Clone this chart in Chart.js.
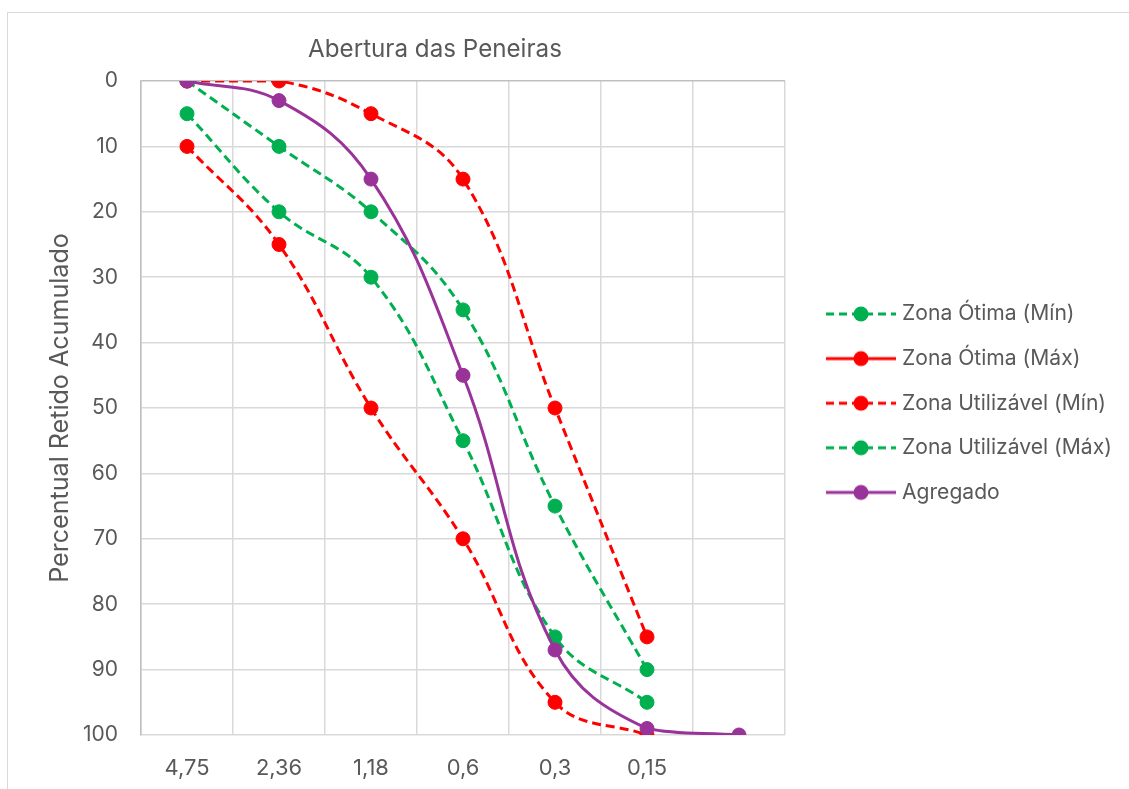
<!DOCTYPE html>
<html><head><meta charset="utf-8">
<script src="https://cdn.jsdelivr.net/npm/chart.js@4.4.1/dist/chart.umd.min.js"></script>
<style>
html,body{margin:0;padding:0;background:#fff;overflow:hidden;width:1129px;height:789px;}
#frame{position:absolute;left:7px;top:12px;width:1300px;height:900px;border-left:1.5px solid #d9d9d9;border-top:1.5px solid #d9d9d9;}
#c{position:absolute;left:0;top:0;}
</style></head><body>
<div id="frame"></div>
<canvas id="c" width="1129" height="789"></canvas>
<script>
// ---- data ----
const categories = ['4,75', '2,36', '1,18', '0,6', '0,3', '0,15', ''];
const otimaMin = [0, 10, 20, 35, 65, 90, null];
const otimaMax = [10, 25, 50, 70, 95, 100, null];
const utilizavelMin = [0, 0, 5, 15, 50, 85, null];
const utilizavelMax = [5, 20, 30, 55, 85, 95, null];
const agregado = [0, 3, 15, 45, 87, 99, 100];
const seriesNames = ['Zona Ótima (Mín)', 'Zona Ótima (Máx)', 'Zona Utilizável (Mín)', 'Zona Utilizável (Máx)', 'Agregado'];
const yTickValues = [0, 10, 20, 30, 40, 50, 60, 70, 80, 90, 100];
const chartTitle = 'Abertura das Peneiras';
const yTitle = 'Percentual Retido Acumulado';

// ---- style ----
const FONT = "Inter, 'Open Sans', sans-serif";
const TXT = '#595959';
const GREEN = '#00B050', RED = '#FF0000', PURPLE = '#993399';
const DASH = [9, 5];

const mctx = document.createElement('canvas').getContext('2d');
function textW(t, size) { mctx.font = size + 'px ' + FONT; return mctx.measureText(t).width; }
function fitSize(t, target) { return Math.round(100 * target / textW(t, 100) * 10) / 10; }

const TITLE_FS = fitSize(chartTitle, 254);
const YTITLE_FS = fitSize(yTitle, 350);
const LEG_FS = fitSize('Zona Utilizável (Máx)', 210);
const XT_FS = Math.min(fitSize('4,75', 45), 22);
const YT_FS = fitSize('100', 35);
const LEG_PAD = 44.6 - LEG_FS;
const LEG_BW = 2 * (902 - 861) - LEG_FS;

function legendSymbol(color, dashed) {
  const cv = document.createElement('canvas');
  cv.width = 70; cv.height = 20;
  const g = cv.getContext('2d');
  g.strokeStyle = color; g.lineWidth = 3;
  if (dashed) g.setLineDash([8, 5]);
  g.beginPath(); g.moveTo(0, 10); g.lineTo(70, 10); g.stroke();
  g.setLineDash([]);
  g.fillStyle = color;
  g.beginPath(); g.arc(35, 10, 7.5, 0, Math.PI * 2); g.fill();
  return cv;
}

const seriesData = [otimaMin, otimaMax, utilizavelMin, utilizavelMax, agregado];
const seriesColors = [GREEN, RED, RED, GREEN, PURPLE];
const seriesDashed = [true, true, true, true, false];
const legendDashed = [true, false, true, true, false];

const datasets = seriesData.map((d, i) => ({
  label: seriesNames[i],
  data: d,
  borderColor: seriesColors[i],
  backgroundColor: seriesColors[i],
  pointBackgroundColor: seriesColors[i],
  pointBorderColor: seriesColors[i],
  borderWidth: 3,
  borderDash: seriesDashed[i] ? DASH : [],
  pointRadius: 7,
  pointHoverRadius: 7,
  pointBorderWidth: 1,
  tension: 0.4,
  fill: false,
  order: -i
}));

// legend width -> right padding so the plot area ends at PLOT_RIGHT
const maxTextW = Math.max(...seriesNames.map(s => textW(s, LEG_FS)));
const legendW = LEG_PAD + LEG_BW + LEG_FS / 2 + maxTextW + 10;
const PLOT_RIGHT = 785;
const padRight = Math.max(0, 1129 - PLOT_RIGHT - legendW);

const placePlugin = {
  id: 'place',
  afterLayout(chart) {
    const lg = chart.legend;
    if (lg) {
      const wantLeft = 861 - LEG_BW / 2 - LEG_PAD;
      const dx = wantLeft - lg.left;
      lg.left += dx; lg.right += dx;
      const colH = lg.columnSizes && lg.columnSizes[0] ? lg.columnSizes[0].height : 0;
      const curY = (lg.top + LEG_PAD + lg.bottom - colH) / 2;
      const dy = 314 - (curY + LEG_FS / 2);
      lg.top += dy; lg.bottom += dy;
    }
    const tb = chart.titleBlock;
    if (tb) { tb.left = 0; tb.right = 870; }
  }
};

const TITLE_LH = TITLE_FS * 1.2;
const TITLE_PT = 50 - TITLE_LH / 2;
const TITLE_PB = 81 - TITLE_PT - TITLE_LH;
const YTITLE_PT = 60 - YTITLE_FS * 0.6;

new Chart(document.getElementById('c'), {
  type: 'line',
  data: { labels: categories, datasets },
  plugins: [placePlugin],
  options: {
    responsive: false,
    animation: false,
    layout: { padding: { left: 0, top: 0, bottom: 0, right: padRight } },
    plugins: {
      tooltip: { enabled: false },
      title: {
        display: true, text: chartTitle, color: TXT,
        font: { family: FONT, size: TITLE_FS, weight: 'normal' },
        padding: { top: TITLE_PT, bottom: TITLE_PB }
      },
      legend: {
        position: 'right',
        align: 'center',
        maxWidth: 600,
        labels: {
          font: { family: FONT, size: LEG_FS },
          color: TXT,
          padding: LEG_PAD,
          usePointStyle: true,
          pointStyleWidth: LEG_BW,
          boxHeight: LEG_FS,
          generateLabels: (chart) => chart.data.datasets.map((ds, i) => ({
            text: ds.label,
            fillStyle: seriesColors[i],
            strokeStyle: seriesColors[i],
            lineWidth: 0,
            fontColor: TXT,
            pointStyle: legendSymbol(seriesColors[i], legendDashed[i]),
            hidden: false,
            datasetIndex: i
          }))
        }
      }
    },
    scales: {
      x: {
        type: 'category',
        offset: true,
        grid: { offset: true, color: '#d9d9d9', lineWidth: 1.5, drawTicks: false },
        border: { display: false },
        ticks: { color: TXT, font: { family: FONT, size: XT_FS }, padding: 20, maxRotation: 0, autoSkip: false },
        afterFit: s => { s.height = 54; }
      },
      y: {
        min: 0, max: 100, reverse: true,
        afterBuildTicks: s => { s.ticks = yTickValues.map(v => ({ value: v })); },
        grid: {
          color: c => (c.tick && c.tick.value === 0) ? '#bfbfbf' : '#d9d9d9',
          lineWidth: 1.5, drawTicks: false
        },
        border: { display: true, color: '#bfbfbf', width: 1.5 },
        ticks: { color: TXT, font: { family: FONT, size: YT_FS }, padding: 23 },
        title: {
          display: true, text: yTitle, color: TXT,
          font: { family: FONT, size: YTITLE_FS },
          padding: { top: YTITLE_PT, bottom: 0 }
        },
        afterFit: s => { s.width = 141; }
      }
    }
  }
});
</script>
</body></html>
